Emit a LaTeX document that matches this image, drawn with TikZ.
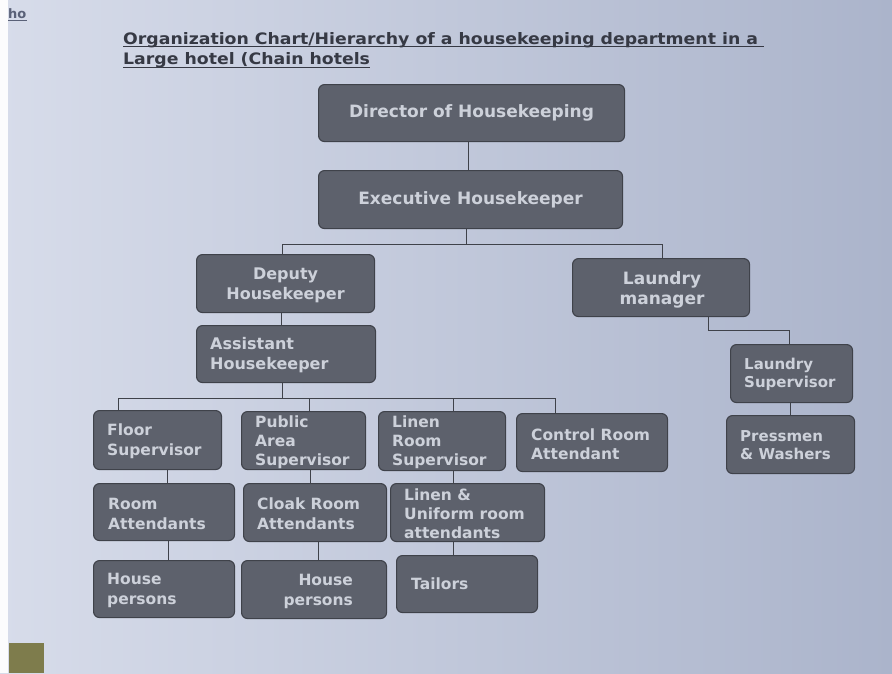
\documentclass[tikz,border=0pt]{standalone}
\usepackage{fontspec}
\setmainfont{DejaVu Sans}
\usetikzlibrary{calc}
\definecolor{pagebg}{HTML}{D7DCEA}
\definecolor{pagemid}{HTML}{CBD1E2}
\definecolor{pagedark}{HTML}{ABB4CB}
\definecolor{boxfill}{HTML}{5D616C}
\definecolor{boxedge}{HTML}{3F424A}
\definecolor{boxtext}{HTML}{CDD1DA}
\definecolor{titletext}{HTML}{363944}
\definecolor{linkcol}{HTML}{5A6178}
\definecolor{tablecol}{HTML}{7E7C4C}
\newcommand\orgbox[5]{\node[box, minimum width=#4pt, minimum height=#5pt] (#1) at (#2,#3) {};}
\begin{document}
\begin{tikzpicture}[x=1pt,y=-1pt,
  box/.style={draw=boxedge, fill=boxfill, line width=1.1pt, rounded corners=6pt, anchor=north west, inner sep=0pt},
  bigt/.style={font=\bfseries\fontsize{17}{20}\selectfont, text=boxtext, align=center, inner sep=0pt},
  midt/.style={font=\bfseries\fontsize{16}{20}\selectfont, text=boxtext, inner sep=0pt},
  smallt/.style={font=\bfseries\fontsize{15.5}{20}\selectfont, text=boxtext, align=left, inner sep=0pt, anchor=west},
  tightt/.style={font=\bfseries\fontsize{15.5}{19}\selectfont, text=boxtext, align=left, inner sep=0pt, anchor=west},
  lst/.style={font=\bfseries\fontsize{15}{18}\selectfont, text=boxtext, align=left, inner sep=0pt, anchor=west},
  conn/.style={draw=boxedge, line width=0.8pt},
  titlet/.style={font=\bfseries\fontsize{15.8}{20}\selectfont, text=titletext, inner sep=0pt, anchor=base west}]
% page
\useasboundingbox (0,0) rectangle (892,673);
\fill[left color=pagebg, middle color=pagemid, right color=pagedark] (0,0) rectangle (892,673);
\fill[white!92!pagebg] (0,0) rectangle (8,673);
\fill[tablecol] (9,643) rectangle (44,673);
% header
\node[font=\bfseries\fontsize{13}{13}\selectfont, text=linkcol, inner sep=0pt, anchor=base west] (ho) at (8,18) {ho};
\draw[linkcol, line width=0.9pt] ([yshift=-2.5pt]ho.base west) -- ([yshift=-2.5pt]ho.base east);
\node[titlet] (t1) at (123,44) {\scalebox{1.095}[1]{Organization Chart/Hierarchy of a housekeeping department in a}};
\node[titlet] (t2) at (123,64.5) {\scalebox{1.095}[1]{Large hotel (Chain hotels}};
\draw[titletext, line width=1pt] ([yshift=-2.5pt]t1.base west) -- ([xshift=6pt,yshift=-2.5pt]t1.base east);
\draw[titletext, line width=1pt] ([yshift=-2.5pt]t2.base west) -- ([yshift=-2.5pt]t2.base east);
% boxes
\orgbox{dir}{318}{84}{306}{57}
\orgbox{exec}{318}{170}{304}{58}
\orgbox{deputy}{196}{254}{178}{58}
\orgbox{assist}{196}{325}{179}{57}
\orgbox{laundry}{572}{258}{177}{58}
\orgbox{floor}{93}{410}{128}{59}
\orgbox{public}{241}{411}{124}{58}
\orgbox{linenroom}{378}{411}{127}{59}
\orgbox{control}{516}{413}{151}{58}
\orgbox{room}{93}{483}{141}{57}
\orgbox{cloak}{243}{483}{143}{58}
\orgbox{linenuni}{390}{483}{154}{58}
\orgbox{house1}{93}{560}{141}{57}
\orgbox{house2}{241}{560}{145}{58}
\orgbox{tailors}{396}{555}{141}{57}
\orgbox{lsup}{730}{344}{122}{58}
\orgbox{press}{726}{415}{128}{58}
% texts
\node[bigt] (dir-t) at (dir.center) {Director of Housekeeping};
\node[bigt] (exec-t) at (exec.center) {Executive Housekeeper};
\node[midt, align=center] (deputy-t) at ([yshift=-2pt]deputy.center) {Deputy\\Housekeeper};
\node[midt, align=left, anchor=west] (assist-t) at ([xshift=14pt,yshift=-1.5pt]assist.west) {Assistant\\Housekeeper};
\node[bigt] (laundry-t) at ([xshift=1pt,yshift=-2pt]laundry.center) {Laundry\\manager};
\node[smallt] (floor-t) at ([xshift=14pt,yshift=-1.5pt]floor.west) {Floor\\Supervisor};
\node[tightt] (public-t) at ([xshift=14pt,yshift=-1.5pt]public.west) {Public\\Area\\Supervisor};
\node[tightt] (linenroom-t) at ([xshift=14pt,yshift=-1.5pt]linenroom.west) {Linen\\Room\\Supervisor};
\node[tightt] (control-t) at ([xshift=15pt,yshift=-1.5pt]control.west) {Control Room\\Attendant};
\node[smallt] (room-t) at ([xshift=15pt,yshift=-1.5pt]room.west) {Room\\Attendants};
\node[smallt] (cloak-t) at ([xshift=14pt,yshift=-1.5pt]cloak.west) {Cloak Room\\Attendants};
\node[tightt] (linenuni-t) at ([xshift=14pt,yshift=-1.5pt]linenuni.west) {Linen \&\\Uniform room\\attendants};
\node[smallt] (house1-t) at ([xshift=14pt,yshift=-1.5pt]house1.west) {House\\persons};
\node[smallt, align=right, anchor=east] (house2-t) at ([xshift=-34pt,yshift=-1.5pt]house2.east) {House\\persons};
\node[smallt] (tailors-t) at ([xshift=15pt]tailors.west) {Tailors};
\node[lst] (lsup-t) at ([xshift=14pt,yshift=-1pt]lsup.west) {Laundry\\Supervisor};
\node[lst] (press-t) at ([xshift=14pt,yshift=-1pt]press.west) {Pressmen\\\& Washers};
% connectors
\draw[conn] ([xshift=-3pt]dir.south) -- ([xshift=-3pt]dir.south |- exec.north);
\draw[conn] ([xshift=-4pt]exec.south) -- ++(0,15) -| ([xshift=-3pt]deputy.north);
\draw[conn] ([xshift=-4pt]exec.south) -- ++(0,15) -| ([xshift=1.5pt]laundry.north);
\draw[conn] ([xshift=-4pt]deputy.south) -- ([xshift=-4pt]deputy.south |- assist.north);
\draw[conn] ([xshift=47.5pt]laundry.south) -- ++(0,13) -| ([xshift=-2pt]lsup.north);
\draw[conn] ([xshift=-1pt]lsup.south) -- ([xshift=-1pt]lsup.south |- press.north);
\draw[conn] ([xshift=-3.5pt]assist.south) -- ++(0,15) -| ([xshift=-39pt]floor.north);
\draw[conn] ([xshift=-3.5pt]assist.south) -- ++(0,15) -| ([xshift=6pt]public.north);
\draw[conn] ([xshift=-3.5pt]assist.south) -- ++(0,15) -| ([xshift=11.5pt]linenroom.north);
\draw[conn] ([xshift=-3.5pt]assist.south) -- ++(0,15) -| ([xshift=-36.5pt]control.north);
\draw[conn] ([xshift=10pt]floor.south) -- ([xshift=10pt]floor.south |- room.north);
\draw[conn] ([xshift=4.5pt]room.south) -- ([xshift=4.5pt]room.south |- house1.north);
\draw[conn] ([xshift=7pt]public.south) -- ([xshift=7pt]public.south |- cloak.north);
\draw[conn] ([xshift=3.5pt]cloak.south) -- ([xshift=3.5pt]cloak.south |- house2.north);
\draw[conn] ([xshift=11.5pt]linenroom.south) -- ([xshift=11.5pt]linenroom.south |- linenuni.north);
\draw[conn] ([xshift=-14pt]linenuni.south) -- ([xshift=-14pt]linenuni.south |- tailors.north);
\end{tikzpicture}
\end{document}
